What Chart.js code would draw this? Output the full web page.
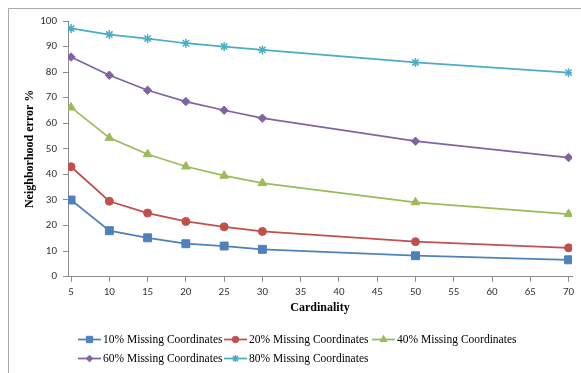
<!DOCTYPE html>
<html>
<head>
<meta charset="utf-8">
<script src="https://cdn.jsdelivr.net/npm/chart.js@4.4.0/dist/chart.umd.min.js"></script>
<style>
  html, body { margin: 0; padding: 0; background: #ffffff; overflow: hidden; }
  #wrap { width: 581px; height: 373px; position: relative; }
</style>
</head>
<body>
<div id="wrap"><canvas id="c"></canvas></div>
<script>
// Cardinality values on the x axis
const cardinality = [5, 10, 15, 20, 25, 30, 50, 70];
const xTickValues = [5, 10, 15, 20, 25, 30, 35, 40, 45, 50, 55, 60, 65, 70];

// Neighborhood error (%) per missing-coordinate ratio
const missing10 = [30.0, 18.0, 15.2, 12.9, 12.0, 10.7, 8.2, 6.6];
const missing20 = [43.0, 29.5, 24.9, 21.6, 19.5, 17.7, 13.7, 11.3];
const missing40 = [66.2, 54.3, 47.9, 43.1, 39.5, 36.6, 29.1, 24.5];
const missing60 = [85.9, 78.8, 72.9, 68.5, 65.1, 62.0, 53.0, 46.6];
const missing80 = [97.1, 94.7, 93.1, 91.3, 90.0, 88.7, 83.8, 79.8];

const seriesLabels = [
  '10% Missing Coordinates',
  '20% Missing Coordinates',
  '40% Missing Coordinates',
  '60% Missing Coordinates',
  '80% Missing Coordinates'
];

const seriesData = [missing10, missing20, missing40, missing60, missing80];
const seriesColors = ['#4F81BD', '#C0504D', '#9BBB59', '#8064A2', '#4BACC6'];
const seriesMarkers = ['rect', 'circle', 'triangle', 'rectRot', 'star'];
const markerRadius = [5.6, 4, 5, 4.2, 4.5];

const datasets = seriesData.map((vals, i) => ({
  label: seriesLabels[i],
  data: vals.map((v, j) => ({ x: cardinality[j], y: v })),
  borderColor: seriesColors[i],
  backgroundColor: seriesColors[i],
  borderWidth: 1.75,
  pointStyle: seriesMarkers[i],
  pointRadius: markerRadius[i],
  pointBackgroundColor: seriesColors[i],
  pointBorderColor: seriesColors[i],
  pointBorderWidth: seriesMarkers[i] === 'star' ? 1.5 : 1,
  tension: 0
}));

// Light frame edges (top and left) around the chart
const framePlugin = {
  id: 'frame',
  beforeDraw(chart) {
    const ctx = chart.ctx;
    ctx.save();
    ctx.strokeStyle = '#A9A9A9';
    ctx.lineWidth = 1;
    ctx.beginPath();
    ctx.moveTo(8.5, chart.height);
    ctx.lineTo(8.5, 8.5);
    ctx.lineTo(chart.width, 8.5);
    ctx.stroke();
    ctx.restore();
  }
};

// Legend laid out in two rows below the axis title
const legendSlots = [[78, 339], [224, 339], [372, 339], [78, 358], [224, 358]];
const legendPlugin = {
  id: 'rowLegend',
  afterDraw(chart) {
    const ctx = chart.ctx;
    chart.data.datasets.forEach((ds, i) => {
      const [x, y] = legendSlots[i];
      ctx.save();
      ctx.strokeStyle = ds.borderColor;
      ctx.lineWidth = 1.75;
      ctx.beginPath();
      ctx.moveTo(x, y + 0.5);
      ctx.lineTo(x + 23, y + 0.5);
      ctx.stroke();
      ctx.fillStyle = ds.pointBackgroundColor;
      ctx.strokeStyle = ds.pointBorderColor;
      ctx.lineWidth = ds.pointBorderWidth;
      Chart.helpers.drawPoint(ctx, {
        pointStyle: ds.pointStyle,
        radius: ds.pointRadius * 0.8,
        rotation: 0,
        borderWidth: ds.pointBorderWidth
      }, x + 11.5, y + 0.5);
      ctx.fillStyle = '#000000';
      ctx.font = '11.5px "Liberation Serif", "Times New Roman", serif';
      ctx.textBaseline = 'middle';
      ctx.textAlign = 'left';
      ctx.fillText(ds.label, x + 25, y + 1);
      ctx.restore();
    });
  }
};

const tickFont = { family: 'Carlito, "Liberation Sans", Arial, sans-serif', size: 11 };
const titleFont = { family: '"Liberation Serif", "Times New Roman", serif', size: 12, weight: 'bold' };

new Chart(document.getElementById('c'), {
  type: 'line',
  data: { datasets },
  options: {
    responsive: true,
    maintainAspectRatio: false,
    animation: false,
    layout: { padding: { top: 21, right: 9, bottom: 0, left: 0 } },
    plugins: {
      legend: { display: false },
      tooltip: { enabled: false }
    },
    scales: {
      x: {
        type: 'linear',
        min: 4.6,
        max: 70.45,
        afterBuildTicks(scale) {
          scale.ticks = xTickValues.map(v => ({ value: v }));
        },
        afterFit(scale) { scale.height = 96.3; },
        grid: {
          drawOnChartArea: false,
          drawTicks: true,
          tickLength: 5,
          color: '#8C8C8C'
        },
        border: { color: '#8C8C8C', width: 1 },
        ticks: { font: tickFont, color: '#333333', padding: 4, maxRotation: 0 },
        title: {
          display: true,
          text: 'Cardinality',
          font: titleFont,
          color: '#000000',
          padding: { top: 0, bottom: 57.8 }
        }
      },
      y: {
        min: 0,
        max: 100,
        afterFit(scale) { scale.width = 68; },
        grid: {
          drawOnChartArea: false,
          drawTicks: true,
          tickLength: 5,
          color: '#8C8C8C'
        },
        border: { color: '#8C8C8C', width: 1 },
        ticks: { stepSize: 10, font: tickFont, color: '#333333', padding: 6 },
        title: {
          display: true,
          text: 'Neighborhood error %',
          font: titleFont,
          color: '#000000',
          padding: { top: 23, bottom: 0 }
        }
      }
    }
  },
  plugins: [framePlugin, legendPlugin]
});
</script>
</body>
</html>
